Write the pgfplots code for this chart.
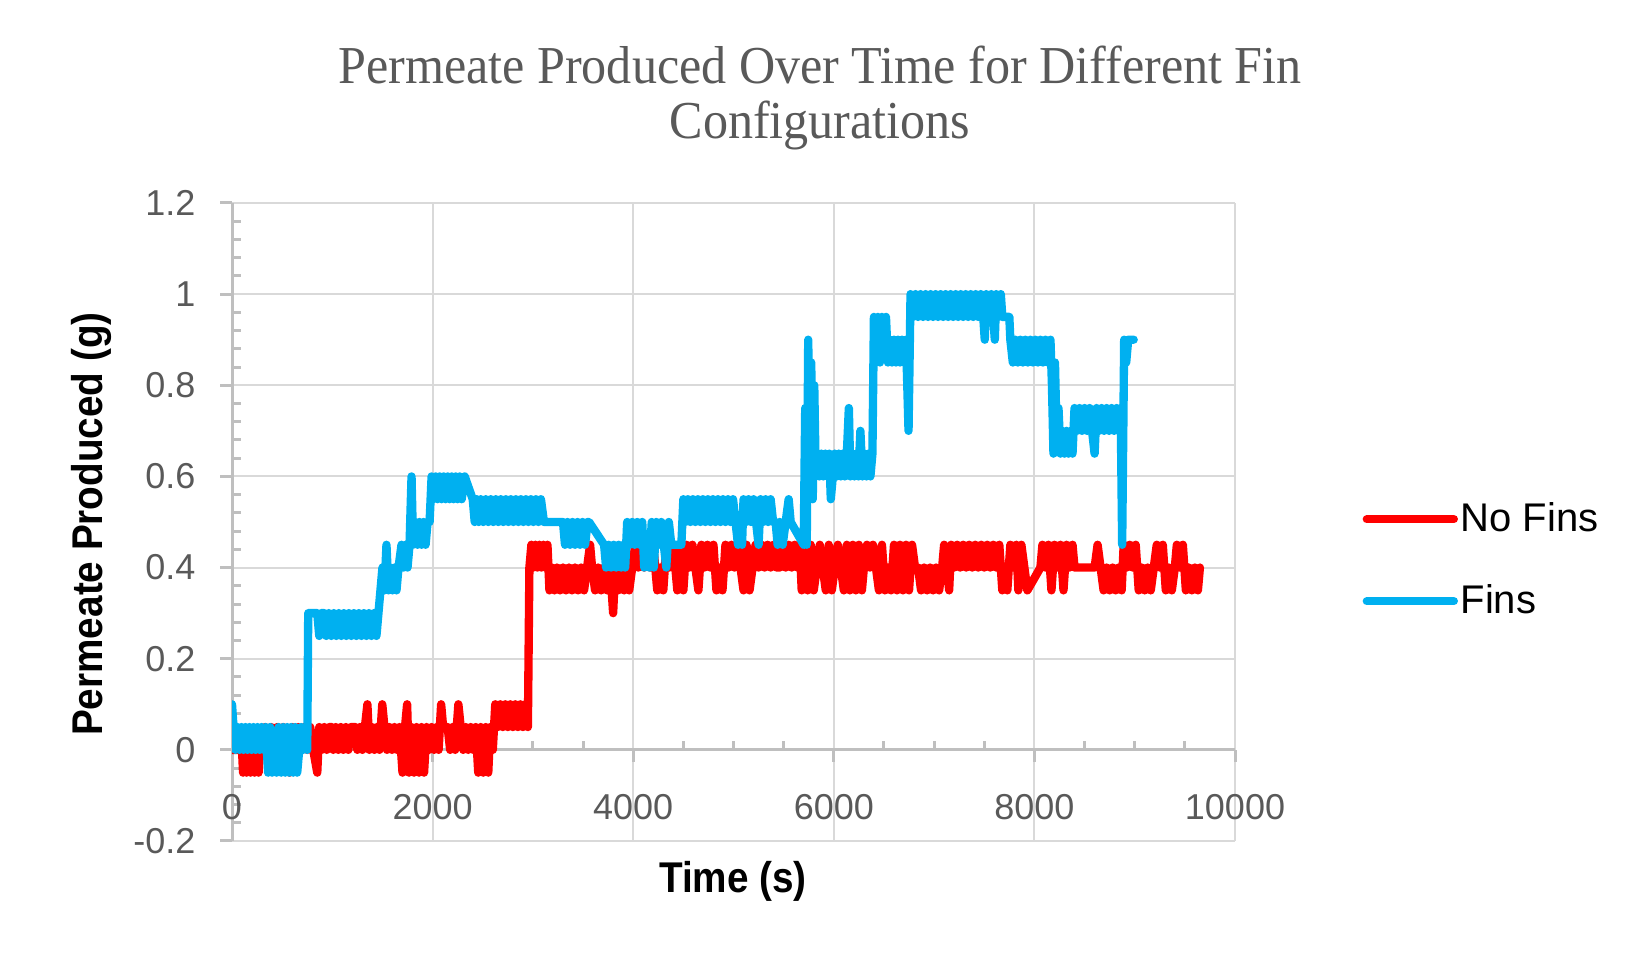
\documentclass[border=0pt]{standalone}
\usepackage{fontspec}
\setmainfont{Liberation Sans}
\newfontfamily\titlefont[FakeStretch=0.94]{Liberation Serif}
\newfontfamily\labelfont[FakeStretch=0.9]{Liberation Sans}
\usepackage{pgfplots}
\pgfplotsset{compat=1.18}
\definecolor{nofins}{HTML}{FF0000}
\definecolor{fins}{HTML}{00B0F0}
\definecolor{gridgray}{HTML}{D9D9D9}
\definecolor{axisgray}{HTML}{BFBFBF}
\definecolor{labelgray}{HTML}{595959}

\begin{document}
\begin{tikzpicture}
\path[use as bounding box] (0,0) rectangle (495pt,291.3pt);

\node[anchor=base, text=labelgray, font=\titlefont\fontsize{16}{19}\selectfont]
  at (246pt,266.1pt) {Permeate Produced Over Time for Different Fin};
\node[anchor=base, text=labelgray, font=\titlefont\fontsize{16}{19}\selectfont]
  at (246pt,249.6pt) {Configurations};

\begin{axis}[
  scale only axis, width=300.9pt, height=191.4pt,
  at={(69.6pt,39pt)}, anchor=south west,
  xmin=0, xmax=10000, ymin=-0.2, ymax=1.2,
  axis x line=middle, axis y line=left,
  axis line style={draw=axisgray, line width=0.9pt, -},
  hide obscured x ticks=false, hide obscured y ticks=false,
  scaled x ticks=false, scaled y ticks=false,
  xtick={0,2000,4000,6000,8000,10000},
  xticklabels={0,2000,4000,6000,8000,10000},
  ytick={-0.2,0,0.2,0.4,0.6,0.8,1,1.2},
  yticklabels={-0.2,0,0.2,0.4,0.6,0.8,1,1.2},
  minor x tick num=3, minor y tick num=4,
  grid=major, major grid style={draw=gridgray, line width=0.6pt},
  tick align=outside, major tick length=3.6pt, minor tick length=2.7pt,
  every tick/.style={draw=axisgray, line width=0.9pt},
  minor x tick style={yshift=2.7pt}, minor y tick style={xshift=2.7pt},
  ticklabel style={font=\fontsize{10.8}{13}\selectfont, text=labelgray},
  xticklabel style={anchor=north, inner sep=0pt, yshift=-9.5pt},
  yticklabel style={anchor=east, inner sep=0pt, xshift=-7.2pt},
  legend style={at={(axis description cs:1.1266,0.440)}, anchor=west,
    draw=none, fill=none, inner sep=0pt, row sep=14.4pt, column sep=0.8pt,
    font=\fontsize{12}{14}\selectfont, nodes={inner sep=0pt}},
  legend cell align=left,
  legend image code/.code={\draw[#1,line cap=round] (0pt,0pt) -- (26.1pt,0pt);},
]
% No Fins
\addplot[nofins, line width=2.5pt, line join=round, line cap=round] coordinates {
(0,0) (100,0) (110,-0.05) (125,0.03) (145,-0.05) (165,0.03) (185,-0.05) (205,0.03)
(225,-0.05) (245,0.03) (265,-0.05) (285,0.03) (300,0) (330,0.05) (360,0) (390,0.05)
(420,0) (450,0.05) (480,0) (510,0.05) (540,0) (575,-0.05) (600,0.05) (630,0)
(660,0.05) (690,0) (720,0.05) (750,0) (780,0.05) (810,0) (850,-0.05) (870,0.05)
(895,0) (920,0.05) (945,0) (970,0.05) (995,0.05) (1010,0) (1035,0.05) (1060,0)
(1085,0.05) (1110,0) (1135,0.05) (1160,0) (1185,0.05) (1230,0.05) (1250,0) (1275,0.05)
(1300,0) (1325,0.05) (1350,0.1) (1370,0) (1395,0.05) (1420,0) (1445,0.05) (1470,0)
(1498,0.1) (1520,0.05) (1545,0) (1570,0.05) (1595,0) (1620,0.05) (1645,0) (1670,0.05)
(1700,-0.05) (1725,0.05) (1746,0.1) (1765,-0.05) (1790,0.05) (1815,-0.05) (1840,0.05)
(1865,-0.05) (1890,0.05) (1915,-0.05) (1940,0.05) (1965,0) (1990,0.05) (2015,0)
(2040,0.05) (2060,0) (2085,0.1) (2105,0.05) (2150,0.05) (2175,0) (2200,0.05) (2225,0)
(2257,0.1) (2280,0.05) (2305,0) (2330,0.05) (2355,0) (2380,0.05) (2405,0) (2430,0.05)
(2455,-0.05) (2480,0.05) (2505,-0.05) (2530,0.05) (2555,-0.05) (2575,0.05) (2600,0)
(2625,0.1) (2650,0.05) (2675,0.1) (2700,0.05) (2725,0.1) (2750,0.05) (2775,0.1)
(2800,0.05) (2825,0.1) (2850,0.05) (2875,0.1) (2900,0.05) (2925,0.1) (2950,0.05)
(2965,0.4) (2985,0.45) (3005,0.4) (3025,0.45) (3045,0.4) (3065,0.45) (3085,0.4)
(3105,0.45) (3125,0.4) (3145,0.45) (3165,0.35) (3190,0.4) (3215,0.35) (3240,0.4)
(3270,0.35) (3300,0.4) (3330,0.35) (3360,0.4) (3390,0.35) (3420,0.4) (3450,0.35)
(3480,0.4) (3510,0.35) (3540,0.4) (3570,0.45) (3590,0.4) (3620,0.35) (3650,0.4)
(3680,0.35) (3710,0.4) (3740,0.35) (3770,0.4) (3800,0.3) (3820,0.4) (3850,0.35)
(3880,0.4) (3910,0.35) (3940,0.4) (3960,0.35) (3990,0.4) (4020,0.45) (4050,0.4)
(4080,0.45) (4110,0.4) (4140,0.45) (4170,0.4) (4200,0.45) (4240,0.35) (4270,0.4)
(4300,0.35) (4330,0.45) (4360,0.4) (4390,0.45) (4420,0.4) (4440,0.35) (4470,0.45)
(4500,0.35) (4530,0.45) (4560,0.4) (4590,0.45) (4620,0.4) (4650,0.35) (4680,0.45)
(4710,0.4) (4740,0.45) (4770,0.4) (4800,0.45) (4830,0.35) (4860,0.4) (4890,0.35)
(4920,0.45) (4950,0.4) (4980,0.45) (5010,0.4) (5040,0.45) (5070,0.4) (5100,0.35)
(5130,0.45) (5160,0.35) (5190,0.4) (5220,0.45) (5250,0.4) (5280,0.45) (5310,0.4)
(5340,0.45) (5370,0.4) (5400,0.45) (5430,0.4) (5460,0.4) (5490,0.45) (5520,0.4)
(5550,0.45) (5580,0.4) (5610,0.45) (5640,0.4) (5660,0.45) (5680,0.35) (5710,0.45)
(5740,0.35) (5770,0.45) (5800,0.35) (5830,0.4) (5860,0.45) (5890,0.4) (5920,0.35)
(5950,0.45) (5980,0.35) (6010,0.4) (6040,0.45) (6070,0.4) (6100,0.35) (6130,0.45)
(6160,0.35) (6190,0.45) (6220,0.35) (6250,0.45) (6280,0.35) (6300,0.4) (6330,0.45)
(6360,0.4) (6390,0.45) (6420,0.4) (6450,0.35) (6480,0.45) (6510,0.35) (6540,0.4)
(6570,0.35) (6600,0.45) (6630,0.35) (6660,0.45) (6690,0.35) (6720,0.45) (6750,0.35)
(6780,0.45) (6810,0.4) (6840,0.4) (6870,0.35) (6900,0.4) (6930,0.35) (6960,0.4)
(6990,0.35) (7020,0.4) (7050,0.35) (7080,0.4) (7100,0.45) (7130,0.4) (7150,0.35)
(7170,0.45) (7200,0.4) (7230,0.45) (7260,0.4) (7290,0.45) (7320,0.4) (7350,0.45)
(7380,0.4) (7410,0.45) (7440,0.4) (7470,0.45) (7500,0.4) (7530,0.45) (7560,0.4)
(7590,0.45) (7620,0.4) (7650,0.45) (7680,0.35) (7710,0.4) (7730,0.35) (7760,0.45)
(7790,0.4) (7820,0.45) (7840,0.35) (7870,0.45) (7900,0.4) (7930,0.35) (8060,0.4)
(8080,0.45) (8110,0.4) (8140,0.45) (8170,0.35) (8200,0.45) (8230,0.4) (8260,0.45)
(8290,0.35) (8320,0.45) (8350,0.4) (8380,0.45) (8400,0.4) (8500,0.4) (8600,0.4)
(8630,0.45) (8660,0.4) (8690,0.35) (8720,0.4) (8750,0.35) (8780,0.4) (8810,0.35)
(8840,0.4) (8870,0.35) (8890,0.45) (8920,0.4) (8950,0.45) (8980,0.4) (9010,0.45)
(9040,0.35) (9070,0.4) (9100,0.35) (9130,0.4) (9160,0.35) (9190,0.4) (9220,0.45)
(9250,0.4) (9280,0.45) (9310,0.35) (9340,0.4) (9370,0.35) (9400,0.4) (9420,0.45)
(9450,0.4) (9480,0.45) (9510,0.35) (9540,0.4) (9570,0.35) (9600,0.4) (9630,0.35)
(9650,0.4)
};
\addlegendentry{No Fins}
% Fins
\addplot[fins, line width=2.5pt, line join=round, line cap=round] coordinates {
(0,0.1) (15,0.05) (35,0) (55,0.05) (75,0) (95,0.05) (115,0) (135,0.05) (155,0)
(175,0.05) (195,0) (215,0.05) (235,0) (255,0.05) (275,0) (295,0.05) (315,0) (335,0.05)
(360,-0.05) (380,0.05) (400,-0.05) (420,0) (445,-0.05) (465,0.05) (490,-0.05)
(510,0.05) (530,-0.05) (550,0.05) (570,-0.05) (590,0.05) (610,-0.05) (630,0.05)
(650,-0.05) (670,0) (690,0.05) (710,0) (730,0.05) (750,0) (760,0.3) (800,0.3)
(850,0.3) (870,0.25) (890,0.3) (920,0.3) (940,0.25) (965,0.3) (990,0.25) (1015,0.3)
(1040,0.25) (1065,0.3) (1090,0.25) (1115,0.3) (1140,0.25) (1165,0.3) (1190,0.25)
(1215,0.3) (1240,0.25) (1265,0.3) (1290,0.25) (1315,0.3) (1340,0.25) (1365,0.3)
(1390,0.25) (1415,0.3) (1440,0.25) (1460,0.3) (1480,0.35) (1500,0.4) (1520,0.35)
(1540,0.45) (1560,0.35) (1580,0.4) (1600,0.35) (1620,0.4) (1640,0.35) (1660,0.4)
(1690,0.45) (1710,0.4) (1730,0.45) (1750,0.4) (1770,0.45) (1790,0.6) (1805,0.45)
(1830,0.5) (1850,0.45) (1870,0.5) (1890,0.45) (1910,0.5) (1930,0.45) (1950,0.5)
(1970,0.5) (1990,0.6) (2010,0.55) (2030,0.6) (2050,0.55) (2070,0.6) (2090,0.55)
(2110,0.6) (2130,0.55) (2150,0.6) (2170,0.55) (2190,0.6) (2210,0.55) (2230,0.6)
(2250,0.55) (2270,0.6) (2290,0.55) (2320,0.6) (2400,0.55) (2420,0.5) (2440,0.55)
(2460,0.5) (2480,0.55) (2505,0.5) (2530,0.55) (2555,0.5) (2580,0.55) (2605,0.5)
(2630,0.55) (2655,0.5) (2680,0.55) (2705,0.5) (2730,0.55) (2755,0.5) (2780,0.55)
(2805,0.5) (2830,0.55) (2855,0.5) (2880,0.55) (2905,0.5) (2930,0.55) (2955,0.5)
(2980,0.55) (3005,0.5) (3030,0.55) (3055,0.5) (3080,0.55) (3110,0.5) (3200,0.5)
(3300,0.5) (3320,0.45) (3345,0.5) (3370,0.45) (3395,0.5) (3420,0.45) (3445,0.5)
(3470,0.45) (3495,0.5) (3520,0.45) (3545,0.5) (3560,0.5) (3710,0.45) (3730,0.4)
(3755,0.45) (3780,0.4) (3805,0.45) (3830,0.4) (3855,0.45) (3880,0.4) (3905,0.45)
(3920,0.4) (3940,0.5) (3965,0.45) (3990,0.5) (4015,0.45) (4040,0.5) (4065,0.45)
(4090,0.5) (4110,0.4) (4135,0.45) (4160,0.4) (4185,0.5) (4205,0.4) (4230,0.5)
(4255,0.45) (4280,0.5) (4305,0.45) (4330,0.4) (4355,0.5) (4380,0.45) (4400,0.45)
(4480,0.45) (4500,0.55) (4520,0.5) (4545,0.55) (4570,0.5) (4595,0.55) (4620,0.5)
(4645,0.55) (4670,0.5) (4695,0.55) (4720,0.5) (4745,0.55) (4770,0.5) (4795,0.55)
(4820,0.5) (4845,0.55) (4870,0.5) (4895,0.55) (4920,0.5) (4945,0.55) (4970,0.5)
(4995,0.55) (5020,0.5) (5045,0.45) (5065,0.5) (5085,0.45) (5100,0.55) (5125,0.5)
(5150,0.55) (5175,0.5) (5200,0.55) (5225,0.5) (5250,0.45) (5270,0.55) (5295,0.5)
(5320,0.55) (5345,0.5) (5370,0.55) (5395,0.5) (5420,0.5) (5440,0.45) (5460,0.5)
(5490,0.45) (5520,0.5) (5550,0.55) (5570,0.5) (5700,0.45) (5715,0.75) (5730,0.45)
(5745,0.9) (5760,0.6) (5775,0.85) (5790,0.55) (5805,0.8) (5820,0.6) (5835,0.65)
(5855,0.6) (5875,0.65) (5895,0.6) (5915,0.65) (5935,0.6) (5955,0.65) (5970,0.55)
(5990,0.6) (6010,0.65) (6030,0.6) (6050,0.65) (6070,0.6) (6090,0.65) (6110,0.6)
(6130,0.65) (6150,0.75) (6165,0.6) (6185,0.65) (6205,0.6) (6225,0.65) (6245,0.6)
(6265,0.7) (6285,0.6) (6305,0.65) (6325,0.6) (6345,0.65) (6365,0.6) (6385,0.65)
(6400,0.95) (6420,0.85) (6440,0.95) (6460,0.85) (6480,0.95) (6500,0.9) (6520,0.95)
(6540,0.85) (6560,0.9) (6580,0.85) (6600,0.9) (6620,0.85) (6640,0.9) (6660,0.85)
(6680,0.9) (6700,0.85) (6720,0.9) (6745,0.7) (6765,1.0) (6790,0.95) (6815,1.0)
(6840,0.95) (6865,1.0) (6890,0.95) (6915,1.0) (6940,0.95) (6965,1.0) (6990,0.95)
(7015,1.0) (7040,0.95) (7065,1.0) (7090,0.95) (7115,1.0) (7140,0.95) (7165,1.0)
(7190,0.95) (7215,1.0) (7240,0.95) (7265,1.0) (7290,0.95) (7315,1.0) (7340,0.95)
(7365,1.0) (7390,0.95) (7415,1.0) (7440,0.95) (7465,1.0) (7490,0.95) (7505,0.9)
(7520,1.0) (7545,0.95) (7570,1.0) (7590,0.95) (7605,0.9) (7620,1.0) (7645,0.95)
(7665,1.0) (7680,0.95) (7750,0.95) (7760,0.9) (7785,0.85) (7810,0.9) (7835,0.85)
(7860,0.9) (7885,0.85) (7910,0.9) (7935,0.85) (7960,0.9) (7985,0.85) (8010,0.9)
(8035,0.85) (8060,0.9) (8085,0.85) (8110,0.9) (8135,0.85) (8160,0.9) (8175,0.8)
(8190,0.65) (8205,0.85) (8220,0.7) (8240,0.75) (8260,0.65) (8280,0.7) (8300,0.65)
(8320,0.7) (8340,0.65) (8360,0.7) (8380,0.65) (8400,0.75) (8425,0.7) (8450,0.75)
(8475,0.7) (8500,0.75) (8525,0.7) (8550,0.75) (8575,0.7) (8600,0.65) (8620,0.75)
(8645,0.7) (8670,0.75) (8695,0.7) (8720,0.75) (8745,0.7) (8770,0.75) (8795,0.7)
(8820,0.75) (8845,0.7) (8860,0.75) (8875,0.45) (8895,0.9) (8915,0.85) (8935,0.9)
(8990,0.9)
};
\addlegendentry{Fins}
\end{axis}

\node[anchor=base, font=\labelfont\bfseries\fontsize{12.9}{15}\selectfont]
  at (219.9pt,23.4pt) {Time (s)};
\node[rotate=90, anchor=base, font=\labelfont\bfseries\fontsize{12.9}{15}\selectfont]
  at (30.6pt,134.1pt) {Permeate Produced (g)};
\end{tikzpicture}
\end{document}
